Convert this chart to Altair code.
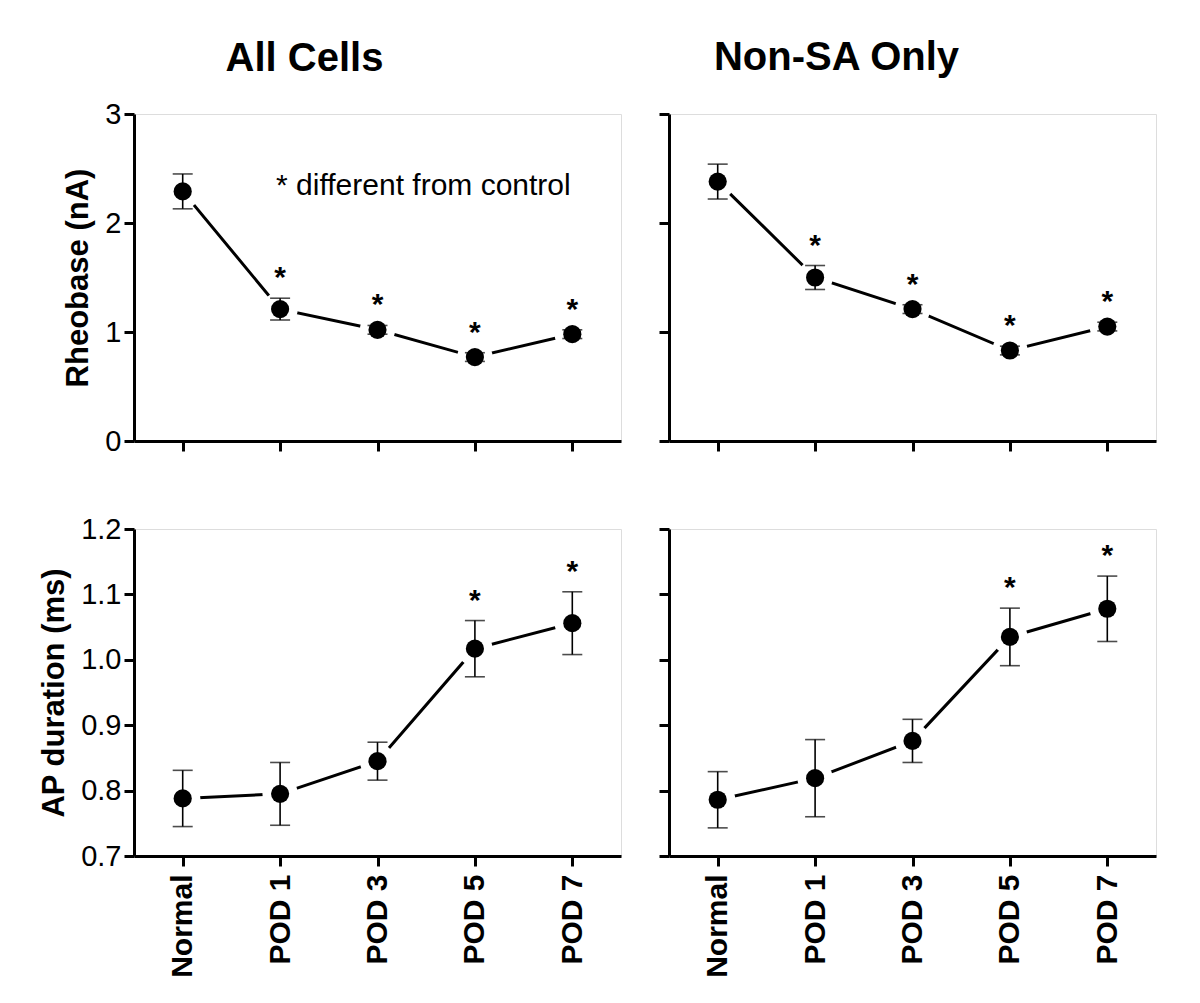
import altair as alt
import pandas as pd

categories = ["Normal", "POD 1", "POD 3", "POD 5", "POD 7"]

rheo_all_mean = [2.29, 1.21, 1.02, 0.77, 0.98]
rheo_all_sem = [0.16, 0.10, 0.04, 0.04, 0.04]
rheo_nonsa_mean = [2.38, 1.50, 1.21, 0.83, 1.05]
rheo_nonsa_sem = [0.16, 0.11, 0.04, 0.04, 0.04]

ap_all_mean = [0.788, 0.795, 0.845, 1.017, 1.056]
ap_all_sem = [0.043, 0.048, 0.029, 0.043, 0.048]
ap_nonsa_mean = [0.786, 0.819, 0.876, 1.035, 1.078]
ap_nonsa_sem = [0.043, 0.059, 0.033, 0.044, 0.050]

rheo_sig = [False, True, True, True, True]
ap_sig = [False, False, False, True, True]

rheo_ticks = [0, 1, 2, 3]
ap_ticks = [0.7, 0.8, 0.9, 1.0, 1.1, 1.2]

col_titles = ["All Cells", "Non-SA Only"]
row_titles = ["Rheobase (nA)", "AP duration (ms)"]

annot_text = ["* different from control"]
annot_cat = ["POD 1"]
annot_y = [2.26]

FONT = "Liberation Sans, Arial, sans-serif"
W, H = 487, 327


def panel(mean, sem, sig, ydomain, yticks, yfmt, ytitle, col_title, title_offset, title_dx,
          show_xlabels, show_ylabels, annot=False):
    df = pd.DataFrame({
        "cat": categories,
        "mean": mean,
        "lo": [m - s for m, s in zip(mean, sem)],
        "hi": [m + s for m, s in zip(mean, sem)],
        "sig": sig,
    })
    base = alt.Chart(df)
    xaxis = alt.Axis(
        title=None, labels=show_xlabels, labelAngle=270, labelFontSize=30,
        labelFontWeight="bold", labelAlign="right", labelBaseline="middle",
        labelPadding=8, labelColor="black", labelFont=FONT,
        domainWidth=3, domainColor="black", tickWidth=3, tickSize=10, tickColor="black",
        grid=False,
    )
    x = alt.X("cat:N", sort=categories, scale=alt.Scale(type="point", padding=0.5), axis=xaxis)
    yaxis_kwargs = dict(
        values=yticks, format=yfmt, labels=show_ylabels, labelFontSize=29,
        labelPadding=3, labelColor="black", labelFont=FONT,
        domainWidth=3, domainColor="black", tickWidth=3, tickSize=10, tickColor="black",
        grid=False, titleFontSize=31, titleFontWeight="bold", titlePadding=10,
        titleColor="black", titleFont=FONT,
    )
    yaxis_kwargs["title"] = ytitle if ytitle is not None else None
    yaxis = alt.Axis(**yaxis_kwargs)
    yscale = alt.Scale(domain=ydomain, nice=False, zero=False)

    def Y(field):
        return alt.Y(field + ":Q", scale=yscale, axis=yaxis)

    line = base.mark_line(color="black", strokeWidth=3).encode(x=x, y=Y("mean"))
    # white disc drawn over the line so it stops short of each marker
    halo = base.mark_circle(size=1250, color="white", opacity=1).encode(x=x, y=Y("mean"))
    rule = base.mark_rule(color="black", strokeWidth=1.6).encode(x=x, y=Y("lo"), y2="hi:Q")
    cap_top = base.mark_tick(color="black", size=20, thickness=1.6).encode(x=x, y=Y("hi"))
    cap_bot = base.mark_tick(color="black", size=20, thickness=1.6).encode(x=x, y=Y("lo"))
    dots = base.mark_circle(size=330, color="black", opacity=1).encode(x=x, y=Y("mean"))
    stars = base.transform_filter("datum.sig").mark_text(
        text="*", fontSize=30, fontWeight="bold", font=FONT, color="black",
        baseline="alphabetic", align="center", dy=-11,
    ).encode(x=x, y=Y("hi"))
    layers = [alt.layer(line, halo), rule, cap_top, cap_bot, dots, stars]
    if annot:
        adf = pd.DataFrame({"cat": annot_cat, "y": annot_y, "t": annot_text})
        layers.append(
            alt.Chart(adf).mark_text(
                align="left", baseline="alphabetic", dx=-4, fontSize=30, font=FONT, color="black"
            ).encode(x=x, y=Y("y"), text="t:N")
        )
    props = dict(width=W, height=H)
    if col_title is not None:
        props["title"] = alt.TitleParams(
            col_title, fontSize=40, fontWeight="bold", font=FONT, color="black",
            anchor="middle", frame="group", dx=title_dx, offset=title_offset,
        )
    return alt.layer(*layers).properties(**props)


p1 = panel(rheo_all_mean, rheo_all_sem, rheo_sig, [0, 3], rheo_ticks, ".0f",
           row_titles[0], col_titles[0], 21, -73, False, True, annot=True)
p2 = panel(rheo_nonsa_mean, rheo_nonsa_sem, rheo_sig, [0, 3], rheo_ticks, ".0f",
           None, col_titles[1], 35, -76, False, False)
p3 = panel(ap_all_mean, ap_all_sem, ap_sig, [0.7, 1.2], ap_ticks, ".1f",
           row_titles[1], None, 0, 0, True, True)
p4 = panel(ap_nonsa_mean, ap_nonsa_sem, ap_sig, [0.7, 1.2], ap_ticks, ".1f",
           None, None, 0, 0, True, False)

chart = alt.concat(p1, p2, p3, p4, columns=2, spacing={"row": 57, "column": 35}).properties(
    padding={"left": 30, "top": 29, "right": 5, "bottom": 5}
).configure_view(stroke=None).configure(font=FONT, background="white")

chart.save("out.html", embed_options={"renderer": "svg", "actions": False})
